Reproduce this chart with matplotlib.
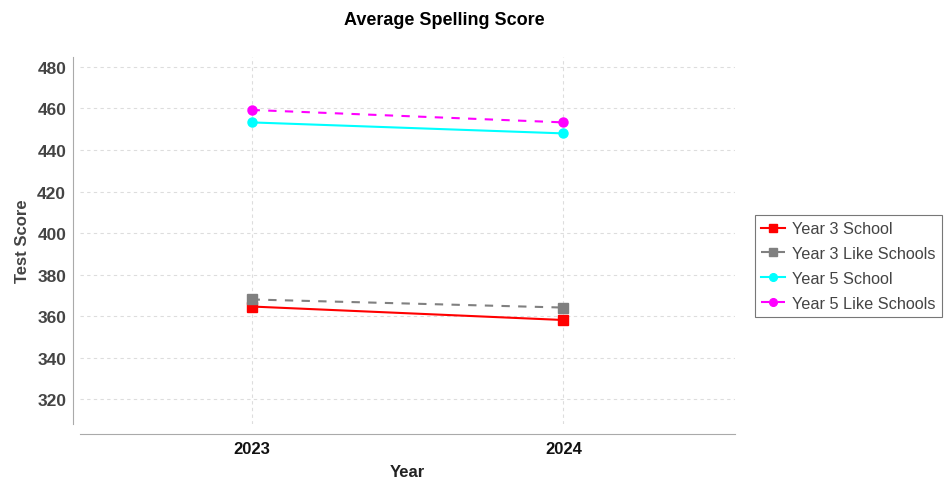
import matplotlib
matplotlib.use("Agg")
import matplotlib.pyplot as plt

plt.rcParams["font.family"] = ["Liberation Sans", "DejaVu Sans"]

years = ["2023", "2024"]
year3_school = [364.6, 358.1]
year3_like = [368.0, 364.1]
year5_school = [453.3, 448.0]
year5_like = [459.3, 453.3]

series = [
    ("Year 3 School", year3_school, "#ff0000", "-", "s"),
    ("Year 3 Like Schools", year3_like, "#808080", "--", "s"),
    ("Year 5 School", year5_school, "#00ffff", "-", "o"),
    ("Year 5 Like Schools", year5_like, "#ff00ff", "--", "o"),
]

fig = plt.figure(figsize=(9.45, 4.81), dpi=100)
ax = fig.add_axes([0.0847, 0.1164, 0.693, 0.763])

x = list(range(len(years)))
for label, vals, color, ls, mk in series:
    ax.plot(x, vals, color=color, linestyle=ls, linewidth=1.5,
            marker=mk, markersize=6.5, label=label,
            dashes=(4, 4) if ls == "--" else (None, None))

ax.set_xlim(-0.55, 1.55)
ax.set_ylim(308, 484.8)
ax.set_yticks([320, 340, 360, 380, 400, 420, 440, 460, 480])
ax.set_xticks(x)
ax.set_xticklabels(years)

ax.grid(True, color="#dddddd", linestyle=(0, (3, 3)), linewidth=0.8)
ax.set_axisbelow(True)

for side in ["top", "right"]:
    ax.spines[side].set_visible(False)
ax.spines["left"].set_position(("outward", 5))
ax.spines["bottom"].set_position(("outward", 7))
ax.spines["left"].set_color("#aaaaaa")
ax.spines["bottom"].set_color("#aaaaaa")
ax.tick_params(length=0, pad=5)
for t in ax.get_yticklabels():
    t.set_fontsize(12.5)
    t.set_fontweight("bold")
    t.set_color("#444444")
for t in ax.get_xticklabels():
    t.set_fontsize(12)
    t.set_fontweight("bold")
    t.set_color("#111111")

ax.set_xlabel("Year", fontsize=12, fontweight="bold", color="#222222", labelpad=6)
ax.set_ylabel("Test Score", fontsize=12, fontweight="bold", color="#444444", labelpad=5)
fig.suptitle("Average Spelling Score", x=0.4706, y=0.975, fontsize=13, fontweight="bold")

leg = ax.legend(loc="upper left", bbox_to_anchor=(1.03, 0.57), fontsize=11.7,
                frameon=True, fancybox=False, handlelength=1.5, markerscale=0.85,
                handletextpad=0.4, borderpad=0.4, labelspacing=0.6,
                borderaxespad=0)
leg.get_frame().set_edgecolor("#555555")
leg.get_frame().set_linewidth(0.8)
for t in leg.get_texts():
    t.set_color("#444444")

fig.savefig("out.png", dpi=100)
